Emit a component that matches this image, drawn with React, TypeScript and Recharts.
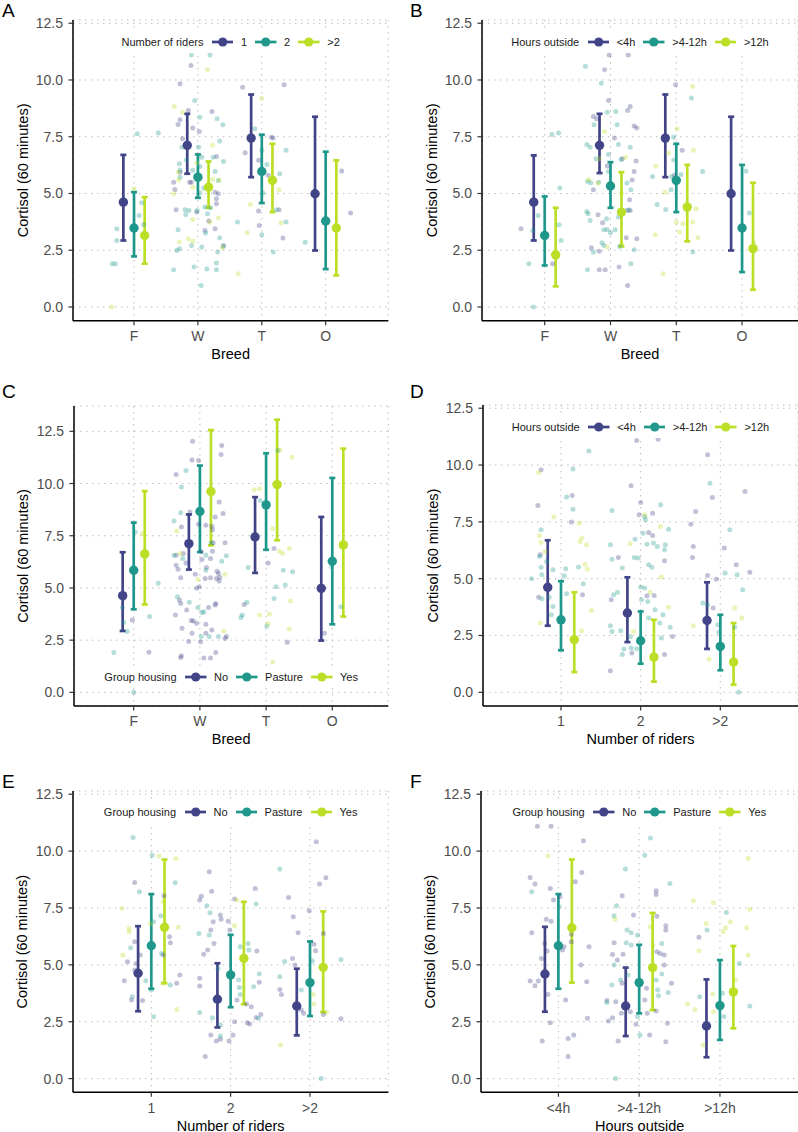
import React from "react";
import { CartesianGrid, ComposedChart, ErrorBar, Label, Legend, Scatter, XAxis, YAxis } from "recharts";

const FONT = "'Liberation Sans', Arial, Helvetica, sans-serif";
const colors = ["#414487", "#1F988B", "#BBDF27"];

const breeds = ["F", "W", "T", "O"];
const riders = ["1", "2", ">2"];
const hours = ["<4h", ">4-12h", ">12h"];
const housing = ["No", "Pasture", "Yes"];
const yTicks = [0, 2.5, 5, 7.5, 10, 12.5];
const dodge = [-1 / 6, 0, 1 / 6];

// ---- A: breed x number of riders
const aMean = [[4.62, 7.12, 7.44, 4.99], [3.48, 5.72, 5.97, 3.79], [3.15, 5.28, 5.58, 3.48]];
const aLow = [[2.93, 5.87, 5.72, 2.49], [2.23, 4.81, 4.58, 1.67], [1.91, 4.37, 4.18, 1.39]];
const aHigh = [[6.7, 8.51, 9.36, 8.38], [5.06, 6.72, 7.59, 6.84], [4.84, 6.41, 7.19, 6.46]];
const aPts1 = [[1.72, 9.83], [1.89, 10.64], [1.72, 8.25], [1.85, 8.66], [1.69, 8.04], [1.92, 7.89], [2.02, 7.73], [2.22, 8.61], [1.76, 7.41], [1.72, 5.94], [2.29, 6.63], [1.62, 5.5], [1.64, 5.18], [1.87, 5.5], [1.9, 5.5], [2.27, 5.06], [2.29, 4.77], [2.29, 4.55], [2.32, 4.99], [1.66, 4.28], [1.98, 4.18], [2.17, 3.79], [2.11, 3.37], [2.27, 3.45], [2.4, 2.71], [2.7, 9.68], [3.35, 9.79], [3.15, 7.48], [3.18, 7.45], [2.74, 6.79], [2.95, 6.46], [3.1, 5.8], [3.27, 4.28], [2.95, 4.23], [2.96, 3.59], [3.33, 3.04], [4.25, 5.99], [4.39, 4.14]];
const aPts2 = [[0.66, 1.91], [0.71, 1.91], [0.73, 3.45], [0.73, 2.93], [1.05, 7.63], [1.12, 4.59], [1.08, 4.03], [1.15, 3.64], [1.38, 7.67], [1.9, 11.1], [2.19, 11.1], [1.95, 9.1], [2.03, 8.36], [2.3, 8.29], [2.39, 8.03], [2.34, 7.31], [2.01, 7.04], [1.75, 7.04], [1.71, 6.31], [1.72, 6.04], [1.82, 6.48], [1.92, 6.02], [2.06, 6.6], [2.03, 6.19], [2.24, 6.6], [2.4, 6.41], [2.27, 5.97], [1.72, 5.72], [2.09, 5.24], [2.32, 5.57], [2.11, 4.4], [2.2, 4.37], [2.15, 4.11], [1.8, 4.28], [1.81, 4.08], [1.86, 4.25], [1.99, 4.25], [2.03, 5.02], [2.12, 3.26], [1.69, 3.4], [1.67, 2.49], [1.71, 2.57], [1.9, 2.71], [2.06, 2.64], [2.34, 3.05], [2.4, 2.67], [2.31, 2.42], [1.62, 1.64], [1.94, 1.76], [2.14, 1.67], [2.29, 1.94], [2.29, 1.64], [2.05, 0.95], [2.89, 7.85], [3.38, 6.9], [3.0, 6.9], [3.08, 6.28], [3.28, 5.87], [3.02, 5.02], [3.23, 4.28], [2.62, 3.74], [3.38, 3.74], [3.0, 3.18], [3.18, 2.42], [3.68, 2.85]];
const aPts3 = [[0.65, 0.0], [1.0, 5.21], [2.15, 10.45], [1.63, 8.83], [1.76, 8.58], [2.23, 7.12], [1.98, 6.34], [1.69, 5.94], [1.7, 5.6], [1.62, 4.99], [1.92, 5.28], [2.23, 5.62], [2.33, 5.6], [1.92, 3.86], [2.19, 3.74], [2.32, 3.93], [1.85, 3.01], [1.92, 2.9], [1.71, 2.86], [2.38, 2.61], [3.0, 9.2], [3.19, 5.58], [3.27, 5.16], [2.82, 4.52], [3.3, 3.7], [2.77, 3.27], [2.63, 1.47]];

// ---- B: breed x hours outside
const bMean = [[4.62, 7.12, 7.44, 4.99], [3.15, 5.33, 5.58, 3.48], [2.3, 4.18, 4.4, 2.57]];
const bLow = [[2.93, 5.9, 5.72, 2.49], [1.83, 4.37, 4.18, 1.54], [0.91, 2.67, 2.89, 0.76]];
const bHigh = [[6.68, 8.51, 9.36, 8.38], [4.87, 6.38, 7.19, 6.26], [4.37, 5.94, 6.26, 5.47]];
const bPts1 = [[0.64, 3.45], [1.12, 1.91], [1.91, 10.45], [1.98, 11.1], [2.27, 11.1], [1.97, 9.1], [1.74, 8.39], [1.79, 8.29], [2.26, 8.66], [2.3, 8.83], [2.36, 7.97], [2.4, 7.89], [2.06, 7.44], [2.39, 6.43], [2.18, 6.53], [1.95, 6.21], [1.74, 5.16], [2.36, 5.97], [2.33, 5.6], [1.81, 4.06], [1.88, 3.71], [2.29, 4.72], [2.25, 4.25], [2.3, 4.25], [1.71, 2.61], [1.83, 2.46], [2.24, 3.05], [2.4, 3.01], [1.83, 1.64], [1.92, 1.64], [2.13, 1.76], [2.26, 0.95], [2.99, 9.79], [3.09, 6.9], [2.97, 5.8]];
const bPts2 = [[0.76, 1.91], [0.82, 3.37], [0.83, 0.0], [0.9, 4.03], [1.11, 7.6], [1.21, 7.67], [1.23, 5.24], [1.22, 3.62], [1.25, 2.93], [1.62, 10.61], [1.86, 9.86], [1.75, 8.03], [1.95, 8.58], [2.08, 8.61], [2.1, 8.03], [1.64, 7.16], [1.69, 7.04], [2.12, 7.16], [2.3, 7.04], [1.78, 6.53], [1.97, 6.72], [2.16, 6.5], [1.97, 5.97], [1.65, 5.53], [1.7, 5.47], [1.82, 5.5], [2.31, 5.16], [2.25, 5.46], [1.64, 4.21], [1.69, 3.81], [1.66, 4.11], [1.94, 3.89], [1.9, 3.4], [1.95, 3.4], [2.0, 3.27], [2.07, 3.4], [2.12, 3.96], [2.28, 4.28], [1.74, 2.42], [1.87, 2.83], [1.9, 2.71], [2.14, 2.67], [2.36, 2.52], [1.65, 1.64], [2.31, 1.91], [3.23, 9.21], [2.96, 7.48], [2.96, 6.48], [2.64, 5.75], [3.4, 5.97], [2.93, 5.75], [3.07, 5.84], [2.92, 5.16], [2.71, 4.52], [2.84, 4.3], [3.25, 2.42], [4.06, 5.99], [4.11, 4.14]];
const bPts3 = [[1.91, 7.73], [1.83, 6.53], [2.23, 6.6], [1.67, 5.62], [1.81, 5.46], [2.17, 5.02], [1.95, 2.64], [2.17, 2.76], [3.25, 9.71], [3.01, 7.85], [3.26, 6.9], [2.88, 6.78], [2.69, 6.21], [2.83, 5.06], [3.3, 4.33], [3.0, 3.74], [3.1, 3.67], [3.25, 3.74], [3.05, 3.3], [3.33, 3.05], [2.68, 3.18], [2.8, 1.47], [4.18, 2.83]];

// ---- C: breed x group housing
const cMean = [[4.63, 7.12, 7.44, 4.98], [5.85, 8.66, 8.98, 6.28], [6.63, 9.62, 9.95, 7.06]];
const cLow = [[2.94, 5.88, 5.72, 2.48], [3.98, 6.72, 6.83, 3.26], [4.21, 7.04, 7.28, 3.63]];
const cHigh = [[6.71, 8.52, 9.35, 8.4], [8.13, 10.86, 11.45, 10.27], [9.64, 12.56, 13.06, 11.67]];
const cPts1 = [[0.98, 3.47], [1.23, 1.92], [1.64, 10.43], [1.89, 12.02], [1.88, 11.13], [1.98, 11.1], [2.33, 11.82], [2.32, 11.39], [1.85, 8.64], [1.72, 7.92], [1.98, 8.05], [1.64, 6.57], [1.75, 6.65], [1.67, 5.9], [1.71, 5.49], [1.79, 6.2], [1.64, 6.09], [2.09, 8.0], [2.18, 7.95], [2.19, 7.79], [2.23, 8.4], [2.29, 9.11], [2.35, 8.56], [2.2, 7.17], [2.38, 7.17], [2.02, 6.73], [2.03, 6.36], [2.19, 6.76], [2.16, 6.41], [2.1, 5.98], [2.26, 5.8], [2.16, 5.49], [2.28, 5.69], [2.25, 5.45], [2.3, 5.5], [2.29, 5.33], [1.93, 5.66], [1.99, 5.06], [1.95, 4.98], [2.08, 5.45], [1.69, 4.42], [1.71, 4.26], [1.8, 3.94], [1.63, 3.71], [2.13, 4.06], [2.24, 4.26], [2.23, 4.18], [1.87, 3.44], [1.9, 3.42], [1.95, 3.31], [2.09, 3.26], [1.73, 3.07], [1.88, 2.83], [2.09, 2.83], [2.18, 2.99], [2.38, 2.59], [2.4, 2.67], [1.83, 2.43], [2.01, 2.42], [1.72, 1.75], [1.71, 1.67], [2.06, 1.64], [2.16, 1.65], [2.24, 1.91], [3.12, 6.89], [3.03, 6.2], [2.67, 4.21], [3.32, 2.4], [3.88, 2.83]];
const cPts2 = [[0.7, 1.91], [1.0, 0.0], [0.83, 4.06], [0.85, 4.5], [0.85, 3.34], [0.9, 2.91], [1.02, 7.68], [1.24, 3.63], [1.37, 5.22], [1.79, 10.62], [1.72, 9.83], [1.71, 8.6], [1.61, 8.21], [1.61, 6.57], [1.74, 6.41], [2.17, 7.16], [2.09, 6.57], [2.33, 6.28], [2.4, 6.54], [2.09, 5.85], [1.66, 4.58], [1.84, 4.31], [1.97, 4.06], [2.03, 3.83], [2.06, 3.86], [2.02, 2.67], [2.14, 2.67], [2.28, 2.67], [2.91, 9.19], [3.18, 11.58], [3.26, 5.85], [3.4, 5.77], [3.15, 5.06], [3.29, 5.14], [3.12, 4.5], [2.73, 5.98], [2.71, 4.31], [2.62, 3.59], [2.64, 3.71], [3.01, 3.18], [4.13, 4.1], [3.99, 6.01]];
const cPts3 = [[1.13, 7.6], [1.65, 7.73], [1.7, 6.65], [2.38, 5.66], [1.97, 5.41], [2.36, 2.94], [2.82, 9.7], [2.9, 9.75], [3.21, 11.61], [3.39, 11.26], [3.1, 7.84], [3.2, 6.76], [3.25, 6.65], [3.35, 6.89], [2.9, 3.71], [3.05, 3.75], [3.03, 3.28], [3.35, 3.04], [3.37, 4.37], [3.1, 1.45]];

// ---- D: number of riders x hours outside
const dMean = [[4.62, 3.49, 3.16], [3.19, 2.27, 2.02], [2.32, 1.55, 1.33]];
const dLow = [[2.93, 2.21, 1.91], [1.85, 1.26, 0.97], [0.89, 0.47, 0.34]];
const dHigh = [[6.69, 5.06, 4.84], [4.89, 3.56, 3.41], [4.4, 3.19, 3.05]];
const dPts1 = [[0.75, 9.79], [0.71, 8.22], [0.74, 6.05], [0.72, 4.18], [1.14, 8.66], [1.13, 7.49], [1.27, 4.29], [1.63, 4.07], [1.72, 5.93], [1.89, 1.73], [1.62, 0.95], [1.98, 7.81], [2.0, 8.35], [1.88, 9.09], [1.95, 11.08], [2.22, 11.14], [2.1, 7.03], [2.15, 6.9], [2.15, 7.88], [2.3, 5.79], [2.08, 4.25], [2.17, 4.26], [2.4, 2.46], [2.3, 1.66], [2.63, 7.4], [2.66, 6.42], [2.65, 5.93], [2.69, 7.96], [2.84, 10.45], [2.9, 8.57], [2.84, 5.14], [2.95, 4.98], [2.91, 3.71], [3.05, 6.35], [3.2, 5.61], [3.31, 8.84], [3.37, 5.28]];
const dPts2 = [[0.63, 5.0], [0.73, 5.98], [0.75, 7.15], [0.82, 5.76], [0.75, 5.5], [0.76, 5.17], [0.9, 5.39], [0.76, 4.12], [0.85, 4.18], [0.88, 3.41], [0.9, 3.78], [1.07, 8.59], [1.15, 9.83], [1.15, 8.06], [1.04, 5.13], [1.06, 5.44], [1.07, 4.34], [1.22, 5.51], [1.28, 4.78], [1.35, 10.62], [1.62, 6.49], [1.64, 8.0], [1.64, 5.86], [1.66, 4.29], [1.77, 5.47], [1.71, 4.4], [1.62, 2.93], [1.64, 2.68], [1.75, 2.71], [1.79, 1.91], [1.77, 1.66], [1.87, 2.46], [1.93, 6.74], [1.97, 5.91], [1.92, 5.93], [1.88, 1.95], [1.95, 1.92], [2.03, 7.0], [2.05, 7.74], [2.06, 7.59], [2.08, 6.52], [2.16, 6.57], [2.21, 6.42], [2.25, 8.25], [2.31, 6.49], [2.3, 6.27], [2.35, 7.18], [2.1, 5.61], [2.14, 5.5], [2.0, 4.63], [2.05, 4.59], [2.01, 4.07], [2.09, 4.0], [2.18, 3.63], [2.28, 3.41], [2.1, 3.27], [2.24, 3.05], [2.37, 2.86], [2.26, 2.39], [2.87, 9.2], [2.78, 3.93], [2.84, 3.85], [2.97, 2.97], [2.98, 2.64], [3.06, 5.25], [3.12, 7.15], [3.21, 5.17], [3.28, 4.51], [3.18, 2.86], [3.23, 0.0]];
const dPts3 = [[0.72, 9.67], [0.73, 6.89], [0.75, 6.59], [0.8, 6.2], [0.74, 3.05], [0.91, 7.71], [1.23, 7.44], [1.24, 6.64], [1.26, 6.79], [1.32, 6.49], [1.3, 5.64], [1.33, 5.42], [1.26, 2.71], [1.38, 3.6], [1.87, 6.54], [2.05, 7.81], [2.25, 7.3], [2.26, 5.07], [2.12, 4.4], [2.35, 3.74], [1.91, 2.68], [2.66, 2.93], [2.86, 1.47], [3.18, 3.71], [3.27, 3.27]];

// ---- E: number of riders x group housing
const eMean = [[4.63, 3.49, 3.19], [5.84, 4.56, 4.22], [6.65, 5.28, 4.89]];
const eLow = [[2.96, 2.25, 1.9], [3.95, 3.14, 2.75], [4.19, 3.27, 2.93]];
const eHigh = [[6.7, 5.07, 4.83], [8.11, 6.32, 6.03], [9.63, 7.77, 7.35]];
const ePts1 = [[0.66, 4.3], [0.7, 5.14], [0.79, 6.02], [0.79, 8.62], [0.75, 3.45], [0.79, 4.77], [0.81, 5.06], [0.86, 5.43], [0.89, 3.43], [1.16, 8.04], [1.23, 6.24], [1.24, 5.97], [1.15, 5.43], [1.32, 4.19], [1.36, 4.55], [1.61, 7.85], [1.63, 8.02], [1.73, 9.09], [1.66, 5.47], [1.71, 5.65], [1.76, 8.24], [1.78, 6.89], [1.75, 6.53], [1.79, 5.94], [1.87, 7.19], [1.88, 7.01], [1.61, 4.41], [1.61, 4.07], [1.75, 1.92], [1.82, 1.65], [1.87, 1.73], [1.68, 0.97], [1.98, 1.65], [2.03, 1.92], [2.05, 2.5], [1.99, 6.53], [1.97, 6.92], [2.05, 7.89], [2.08, 3.45], [2.2, 3.28], [2.26, 3.16], [2.21, 2.46], [2.24, 2.4], [2.31, 8.36], [2.33, 5.61], [2.36, 4.23], [2.38, 2.82], [2.32, 2.69], [2.73, 7.96], [2.79, 7.11], [2.85, 6.41], [2.62, 3.92], [2.64, 3.7], [2.78, 5.28], [2.81, 4.99], [2.85, 3.09], [2.89, 3.02], [2.92, 2.87], [2.99, 7.38], [3.08, 10.41], [3.12, 8.55], [3.2, 8.83], [3.17, 6.38], [3.05, 5.91], [3.07, 5.62], [3.17, 2.82], [3.39, 2.63]];
const ePts2 = [[0.74, 5.75], [0.77, 10.6], [0.85, 8.21], [0.76, 3.6], [0.93, 4.3], [1.0, 3.89], [1.01, 9.82], [1.03, 2.72], [1.03, 6.89], [1.12, 7.16], [1.3, 8.61], [1.13, 5.5], [1.24, 4.11], [1.7, 7.6], [1.74, 7.29], [1.6, 6.38], [1.73, 6.31], [1.84, 4.84], [1.61, 2.91], [1.77, 2.68], [1.87, 1.87], [1.87, 2.36], [2.12, 5.8], [2.1, 4.33], [2.11, 4.01], [2.12, 3.7], [2.22, 5.94], [2.23, 5.65], [2.29, 4.04], [2.32, 7.67], [2.36, 4.6], [2.35, 2.65], [2.62, 9.21], [2.68, 5.15], [2.62, 4.48], [2.89, 3.89], [3.03, 5.17], [3.39, 5.24], [3.14, 0.0]];
const ePts3 = [[0.63, 7.48], [0.64, 5.43], [0.72, 6.6], [0.72, 6.45], [0.99, 6.82], [1.1, 9.78], [1.15, 7.77], [1.31, 9.68], [1.34, 6.65], [1.32, 3.04], [1.14, 4.19], [2.05, 6.72], [2.08, 7.85], [2.63, 1.48], [3.04, 3.7], [3.05, 3.28], [3.21, 2.91]];

// ---- F: hours outside x group housing
const fMean = [[4.6, 3.19, 2.31], [5.84, 4.22, 3.21], [6.63, 4.88, 3.81]];
const fLow = [[2.94, 1.87, 0.94], [3.95, 2.87, 1.7], [4.22, 3.01, 2.21]];
const fHigh = [[6.67, 4.88, 4.36], [8.11, 5.88, 5.21], [9.63, 7.28, 5.83]];
const fPts1 = [[0.74, 11.09], [0.91, 11.09], [1.31, 10.45], [1.29, 9.06], [0.65, 8.84], [0.71, 8.55], [0.9, 8.36], [0.94, 7.85], [1.02, 7.99], [1.21, 8.65], [0.85, 7.0], [0.91, 6.92], [0.67, 6.41], [0.83, 5.94], [0.86, 5.61], [0.79, 5.28], [1.05, 5.65], [1.07, 5.8], [1.16, 6.35], [1.16, 6.02], [1.38, 5.8], [1.28, 4.99], [0.65, 4.29], [0.71, 4.08], [0.75, 4.29], [0.87, 3.7], [1.09, 3.45], [1.35, 4.26], [1.36, 2.65], [0.8, 1.65], [0.9, 2.46], [1.12, 1.76], [1.19, 1.92], [1.12, 0.97], [1.79, 8.04], [1.93, 7.19], [1.69, 5.97], [1.67, 5.46], [1.8, 5.47], [1.73, 5.21], [1.79, 4.19], [1.6, 3.43], [1.71, 3.38], [1.89, 2.94], [1.78, 2.87], [1.67, 2.68], [1.62, 2.53], [1.74, 1.65], [1.96, 2.39], [2.09, 3.97], [2.07, 3.45], [2.1, 2.87], [2.13, 1.92], [2.21, 8.09], [2.21, 8.26], [2.22, 7.14], [2.22, 5.58], [2.26, 5.5], [2.31, 5.43], [2.31, 4.99], [2.33, 6.53], [2.33, 6.72], [2.4, 4.19], [2.35, 2.43], [2.33, 1.62], [2.21, 2.97], [2.74, 6.21]];
const fPts2 = [[0.67, 8.21], [1.01, 7.55], [1.83, 9.21], [2.07, 9.82], [2.14, 10.58], [2.38, 8.58], [1.72, 7.6], [1.69, 7.16], [1.85, 6.53], [1.9, 6.41], [1.98, 6.31], [1.84, 5.97], [1.9, 5.87], [1.69, 4.99], [1.66, 4.11], [1.77, 4.33], [1.86, 4.55], [1.6, 3.35], [1.71, 0.0], [2.01, 1.92], [1.98, 2.72], [2.28, 5.94], [2.21, 4.33], [2.23, 3.89], [2.24, 3.64], [2.28, 4.6], [2.36, 3.79], [2.84, 6.53], [3.08, 7.3], [3.24, 5.06], [2.75, 3.6], [3.03, 3.75], [3.05, 2.72], [3.37, 3.19]];
const fPts3 = [[0.87, 9.78], [1.16, 6.45], [1.7, 7.01], [2.14, 6.67], [2.17, 5.87], [2.67, 7.82], [2.92, 7.73], [2.83, 6.82], [2.74, 5.62], [3.04, 6.45], [3.07, 6.63], [3.13, 6.89], [3.33, 6.63], [3.37, 7.44], [3.35, 9.68], [3.35, 5.43], [2.6, 3.28], [2.69, 3.04], [2.91, 3.72], [2.92, 2.94], [3.19, 4.33], [2.79, 1.48]];

type Spec = {
  letter: string;
  letterPos: [number, number];
  plot: [number, number, number, number]; // left, right, top, bottom (page px)
  xDomain: [number, number];
  yDomain: [number, number];
  cats: string[];
  xTitle: string;
  legendTitle: string;
  legendLabels: string[];
  legendAtBottom?: boolean;
  mean: number[][];
  low: number[][];
  high: number[][];
  pts: number[][][];
};

const panels: Spec[] = [
  { letter: "A", letterPos: [2, 1], plot: [73, 388.3, 20, 320.7], xDomain: [0.045, 4.98], yDomain: [-0.602, 12.642], cats: breeds, xTitle: "Breed", legendTitle: "Number of riders", legendLabels: riders, mean: aMean, low: aLow, high: aHigh, pts: [aPts1, aPts2, aPts3] },
  { letter: "B", letterPos: [410, 1], plot: [482, 798, 20, 320.7], xDomain: [0.047, 4.85], yDomain: [-0.602, 12.642], cats: breeds, xTitle: "Breed", legendTitle: "Hours outside", legendLabels: hours, mean: bMean, low: bLow, high: bHigh, pts: [bPts1, bPts2, bPts3] },
  { letter: "C", letterPos: [2, 382], plot: [74, 388.3, 406, 706], xDomain: [0.098, 4.846], yDomain: [-0.653, 13.713], cats: breeds, xTitle: "Breed", legendTitle: "Group housing", legendLabels: housing, legendAtBottom: true, mean: cMean, low: cLow, high: cHigh, pts: [cPts1, cPts2, cPts3] },
  { letter: "D", letterPos: [410, 382], plot: [483, 798, 405, 706], xDomain: [0.021, 3.975], yDomain: [-0.602, 12.642], cats: riders, xTitle: "Number of riders", legendTitle: "Hours outside", legendLabels: hours, mean: dMean, low: dLow, high: dHigh, pts: [dPts1, dPts2, dPts3] },
  { letter: "E", letterPos: [2, 772], plot: [73, 388.3, 790.7, 1092], xDomain: [0.013, 3.987], yDomain: [-0.602, 12.642], cats: riders, xTitle: "Number of riders", legendTitle: "Group housing", legendLabels: housing, mean: eMean, low: eLow, high: eHigh, pts: [ePts1, ePts2, ePts3] },
  { letter: "F", letterPos: [410, 772], plot: [480.7, 798, 790.7, 1092], xDomain: [0.042, 3.97], yDomain: [-0.602, 12.642], cats: hours, xTitle: "Hours outside", legendTitle: "Group housing", legendLabels: housing, mean: fMean, low: fLow, high: fHigh, pts: [fPts1, fPts2, fPts3] },
];

const Y_AXIS_W = 73;
const TOP_PAD = 40;
const X_AXIS_H = 50;

function LegendBox({ title, labels }: { title: string; labels: string[] }) {
  return (
    <div style={{ display: "flex", justifyContent: "center" }}>
      <div
        style={{
          display: "inline-flex",
          alignItems: "center",
          background: "#fff",
          padding: "4px 6px",
          height: 14,
          fontFamily: FONT,
          fontSize: 11,
          color: "#1A1A1A",
          whiteSpace: "nowrap",
        }}
      >
        <span style={{ marginRight: 8.5 }}>{title}</span>
        {labels.map((lab, i) => (
          <span key={lab} style={{ display: "inline-flex", alignItems: "center", marginRight: i < labels.length - 1 ? 8 : 0 }}>
            <svg width={21.5} height={12} style={{ display: "block" }}>
              <line x1={0} x2={21.5} y1={6} y2={6} stroke={colors[i]} strokeWidth={2.7} />
              <circle cx={10.75} cy={6} r={4.6} fill={colors[i]} />
            </svg>
            <span style={{ marginLeft: 7.5 }}>{lab}</span>
          </span>
        ))}
      </div>
    </div>
  );
}

function Panel({ spec }: { spec: Spec }) {
  const [pl, pr, pt, pb] = spec.plot;
  const plotW = pr - pl;
  const plotH = pb - pt;
  const left = pl - Y_AXIS_W;
  const top = pt - TOP_PAD;
  const width = plotW + Y_AXIS_W + 6;
  const height = plotH + TOP_PAD + X_AXIS_H;
  const xTicks = spec.cats.map((_, i) => i + 1);
  const legendCenter = spec.legendAtBottom ? TOP_PAD + plotH - 29.3 : TOP_PAD + 21.8;

  const jitterData = spec.pts.map((pts) => pts.map(([x, y]) => ({ x, y })));
  const meanData = spec.mean.map((row, g) =>
    row.map((m, i) => ({
      x: i + 1 + dodge[g],
      y: m,
      err: [m - spec.low[g][i], spec.high[g][i] - m],
    }))
  );

  return (
    <>
      <div style={{ position: "absolute", left: spec.letterPos[0], top: spec.letterPos[1], fontFamily: FONT, fontSize: 19, lineHeight: "19px", color: "#000" }}>
        {spec.letter}
      </div>
      <div style={{ position: "absolute", left, top, width, height }}>
        <ComposedChart width={width} height={height} margin={{ top: TOP_PAD, right: 6, bottom: 0, left: 0 }}>
          <CartesianGrid stroke="#BDBDBD" strokeWidth={1} strokeDasharray="1.5 4.5" />
          <XAxis
            type="number"
            dataKey="x"
            domain={spec.xDomain}
            allowDataOverflow
            ticks={xTicks}
            interval={0}
            tickFormatter={(v: number) => spec.cats[Math.round(v) - 1] ?? ""}
            height={X_AXIS_H}
            tickSize={4.5}
            tickMargin={6}
            axisLine={{ stroke: "#000", strokeWidth: 1.5 }}
            tickLine={{ stroke: "#333", strokeWidth: 1.2 }}
            tick={{ fill: "#4D4D4D", fontSize: 14, fontFamily: FONT }}
          >
            <Label
              content={() => (
                <text x={Y_AXIS_W + plotW / 2} y={TOP_PAD + plotH + 33.3} textAnchor="middle" dominantBaseline="central" fontSize={14.5} fontFamily={FONT} fill="#000">
                  {spec.xTitle}
                </text>
              )}
            />
          </XAxis>
          <YAxis
            type="number"
            dataKey="y"
            domain={spec.yDomain}
            allowDataOverflow
            ticks={yTicks}
            interval={0}
            tickFormatter={(v: number) => v.toFixed(1)}
            width={Y_AXIS_W}
            tickSize={4.5}
            tickMargin={5.5}
            axisLine={{ stroke: "#000", strokeWidth: 1.5 }}
            tickLine={{ stroke: "#333", strokeWidth: 1.2 }}
            tick={{ fill: "#4D4D4D", fontSize: 14, fontFamily: FONT }}
          >
            <Label
              content={() => {
                const cx = 22.5;
                const cy = TOP_PAD + plotH / 2;
                return (
                  <text x={cx} y={cy} transform={`rotate(-90 ${cx} ${cy})`} textAnchor="middle" dominantBaseline="central" fontSize={14.5} fontFamily={FONT} fill="#000">
                    Cortisol (60 minutes)
                  </text>
                );
              }}
            />
          </YAxis>
          {jitterData.map((data, g) => (
            <Scatter
              key={`j${g}`}
              data={data}
              isAnimationActive={false}
              shape={(p: any) => <circle cx={p.cx} cy={p.cy} r={2.5} fill={colors[g]} fillOpacity={0.33} />}
            />
          ))}
          {meanData.map((data, g) => (
            <Scatter
              key={`m${g}`}
              data={data}
              isAnimationActive={false}
              shape={(p: any) => <circle cx={p.cx} cy={p.cy} r={4.7} fill={colors[g]} />}
            >
              <ErrorBar dataKey="err" direction="y" width={3} stroke={colors[g]} strokeWidth={2.7} />
            </Scatter>
          ))}
          <Legend
            layout="horizontal"
            verticalAlign="middle"
            align="center"
            wrapperStyle={{ top: legendCenter - 11, left: Y_AXIS_W, width: plotW, height: 22 }}
            content={() => <LegendBox title={spec.legendTitle} labels={spec.legendLabels} />}
          />
        </ComposedChart>
      </div>
    </>
  );
}

export default function App() {
  return (
    <div style={{ position: "absolute", left: 0, top: 0, width: 798, height: 1132, overflow: "hidden", background: "#fff" }}>
      {panels.map((p) => (
        <Panel key={p.letter} spec={p} />
      ))}
    </div>
  );
}
